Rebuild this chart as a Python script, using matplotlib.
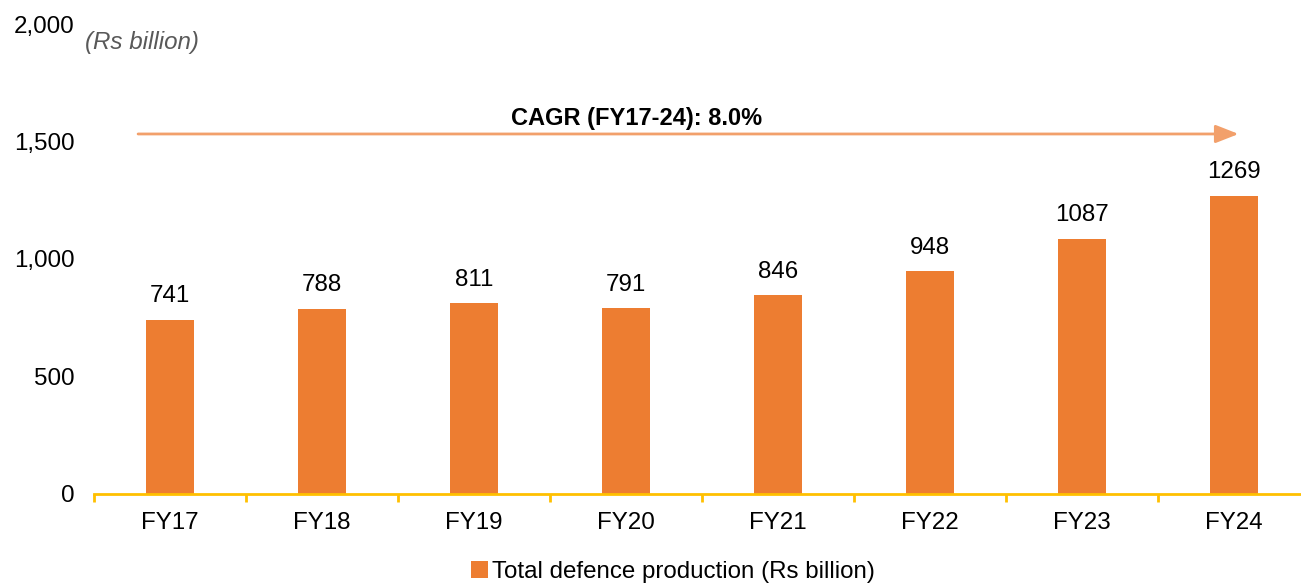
import numpy as np
import matplotlib.pyplot as plt
from matplotlib.ticker import FuncFormatter, FixedLocator

# data
years = ["FY17", "FY18", "FY19", "FY20", "FY21", "FY22", "FY23", "FY24"]
production = [741, 788, 811, 791, 846, 948, 1087, 1269]
y_ticks = [0, 500, 1000, 1500, 2000]
cagr_label = "CAGR (FY17-24): 8.0%"
series_name = "Total defence production (Rs billion)"

plt.rcParams['font.family'] = ['Liberation Sans', 'DejaVu Sans']
fs = 17.4

W, H = 1301, 584
fig = plt.figure(figsize=(W / 100, H / 100), dpi=100)
# axes box in pixels: left 94, right 1310 (runs past the edge), bottom 494, top 24
ax = fig.add_axes([94 / W, 1 - 494 / H, 1216 / W, 470 / H])

x = np.arange(len(years))
bars = ax.bar(x, production, width=0.31, color="#ED7D31", label=series_name)

for xi, v in zip(x, production):
    ax.annotate(str(v), xy=(xi, v), xytext=(0, 9), textcoords="offset points",
                ha="center", va="bottom", fontsize=fs, color="#000000")

ax.set_xlim(-0.5, len(years) - 0.5)
ax.set_ylim(0, 2000)
ax.set_yticks(y_ticks)
ax.yaxis.set_major_formatter(FuncFormatter(lambda v, p: f"{int(v):,}"))
ax.set_xticks(x)
ax.set_xticklabels(years)
ax.xaxis.set_minor_locator(FixedLocator(np.arange(-0.5, len(years), 1.0)))

for s in ["top", "right", "left"]:
    ax.spines[s].set_visible(False)
ax.spines["bottom"].set_color("#FFC000")
ax.spines["bottom"].set_linewidth(2)

ax.tick_params(axis="y", length=0, pad=14, labelsize=fs)
ax.tick_params(axis="x", which="major", length=0, pad=13, labelsize=fs)
ax.tick_params(axis="x", which="minor", length=6, width=2, color="#FFC000")

# CAGR arrow
ax.annotate("", xy=(7.03, 1532), xytext=(-0.21, 1532),
            arrowprops=dict(arrowstyle="-|>,head_length=1.4,head_width=0.55",
                            color="#F2A06B", lw=2, shrinkA=0, shrinkB=0))
ax.text(3.07, 1600, cagr_label, ha="center", va="center",
        fontsize=17, fontweight="bold")

fig.text(85 / W, 1 - 42 / H, "(Rs billion)", ha="left", va="center",
         fontsize=fs, style="italic", color="#595959")

fig.legend(handles=[bars], labels=[series_name], loc="center",
           bbox_to_anchor=(673 / W, 1 - 572 / H), frameon=False,
           fontsize=fs, handlelength=0.7, handleheight=0.7, handletextpad=0.2)

fig.savefig("out.png", dpi=100)
